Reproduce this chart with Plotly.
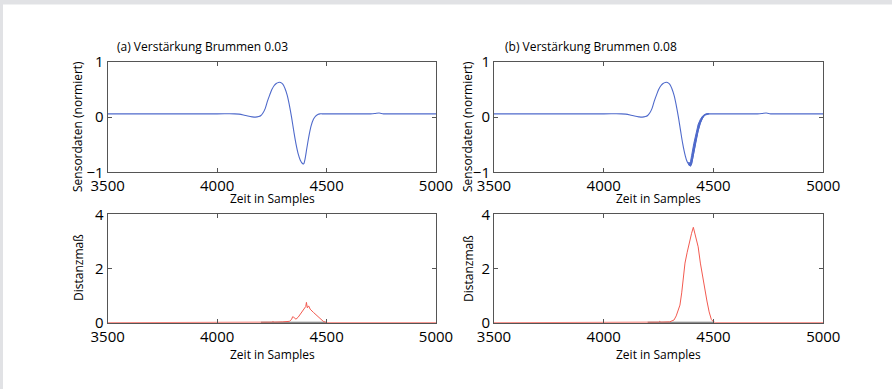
import plotly.graph_objects as go

W, H = 892, 389

# ---------------- data ----------------
x_sig = [3500, 3800, 4000, 4080, 4100, 4120, 4140, 4160, 4175, 4190, 4200, 4210, 4220, 4230,
         4240, 4250, 4260, 4270, 4280, 4290, 4300, 4310, 4320, 4330, 4340, 4350, 4360,
         4370, 4380, 4390, 4395, 4400, 4410, 4420, 4430, 4440, 4450, 4460, 4470, 4480,
         4600, 4700, 4720, 4740, 4760, 4780, 4900, 5000]
sig_a = [0.06, 0.06, 0.06, 0.06, 0.055, 0.04, 0.02, 0.005, 0.0, 0.01, 0.03, 0.08, 0.16, 0.29,
         0.40, 0.50, 0.57, 0.61, 0.63, 0.63, 0.60, 0.52, 0.40, 0.22, 0.0, -0.25, -0.48,
         -0.66, -0.78, -0.84, -0.85, -0.79, -0.56, -0.33, -0.15, -0.04, 0.02, 0.05, 0.06, 0.06,
         0.06, 0.06, 0.065, 0.075, 0.06, 0.06, 0.06, 0.06]
sig_b = [0.06, 0.06, 0.06, 0.06, 0.055, 0.04, 0.02, 0.005, 0.0, 0.01, 0.03, 0.08, 0.16, 0.29,
         0.40, 0.50, 0.57, 0.61, 0.63, 0.63, 0.60, 0.52, 0.40, 0.22, 0.0, -0.25, -0.49,
         -0.68, -0.81, -0.87, -0.88, -0.84, -0.64, -0.42, -0.24, -0.10, -0.01, 0.04, 0.06, 0.06,
         0.06, 0.06, 0.065, 0.075, 0.06, 0.06, 0.06, 0.06]
# spread of the overlapping curves in (b) on the rising edge after the minimum
x_band = [4385, 4390, 4395, 4400, 4410, 4420, 4430, 4440, 4450, 4460, 4470, 4480]
band_lo = [-0.86, -0.88, -0.89, -0.85, -0.65, -0.43, -0.25, -0.11, -0.02, 0.035, 0.055, 0.06]
band_hi = [-0.82, -0.83, -0.81, -0.70, -0.48, -0.29, -0.13, -0.04, 0.02, 0.05, 0.06, 0.06]

x_dist_a = [3500, 4200, 4210, 4250, 4255, 4260, 4300, 4330, 4340, 4345, 4350, 4360, 4370,
            4380, 4390, 4400, 4405, 4408, 4412, 4418, 4425, 4440, 4455, 4470, 4485, 4500, 5000]
dist_a = [0, 0, 0.01, 0.02, 0.04, 0.02, 0.03, 0.05, 0.12, 0.22, 0.2, 0.13, 0.2,
          0.32, 0.42, 0.52, 0.6, 0.75, 0.55, 0.62, 0.5, 0.38, 0.27, 0.15, 0.05, 0.0, 0]

x_dist_b = [3500, 4210, 4250, 4255, 4260, 4300, 4320, 4330, 4340, 4347, 4355, 4362, 4370,
            4380, 4390, 4400, 4408, 4415, 4420, 4430, 4440, 4450, 4460, 4470, 4480, 4490,
            4500, 4510, 5000]
dist_b = [0, 0, 0.02, 0.05, 0.02, 0.03, 0.1, 0.25, 0.5, 0.65, 1.1, 1.75, 2.2,
          2.6, 3.0, 3.3, 3.52, 3.3, 3.2, 2.8, 2.2, 1.7, 1.2, 0.8, 0.4, 0.12,
          0.03, 0, 0]

x_dark = [4200, 4500]
dark_vals = [0, 0]

x_ticks = [3500, 4000, 4500, 5000]
sig_ticks = [-1, 0, 1]
dist_ticks = [0, 2, 4]

titles = ["(a) Verstärkung Brummen 0.03", "(b) Verstärkung Brummen 0.08"]
xlabel = "Zeit in Samples"
ylabel_top = "Sensordaten (normiert)"
ylabel_bot = "Distanzmaß"

BLUE = "#4f6acb"
RED = "#f25a50"
FRAME = "#555555"
FONT = "Open Sans"

xl = (107.7, 436.0)
xr = (494.0, 823.3)
yt = (62.0, 172.3)
yb = (214.3, 322.7)


def xd(p):
    return [p[0] / W, p[1] / W]


def yd(p):
    return [1 - p[1] / H, 1 - p[0] / H]


fig = go.Figure()

fig.add_trace(go.Scatter(x=x_sig, y=sig_a, mode="lines", line=dict(color=BLUE, width=1.1, shape="spline"),
                         xaxis="x", yaxis="y", showlegend=False))
fig.add_trace(go.Scatter(x=x_band + x_band[::-1], y=band_lo + band_hi[::-1], mode="lines",
                         fill="toself", fillcolor=BLUE, line=dict(color=BLUE, width=1.0),
                         xaxis="x2", yaxis="y2", showlegend=False))
fig.add_trace(go.Scatter(x=x_sig, y=sig_b, mode="lines", line=dict(color=BLUE, width=1.1, shape="spline"),
                         xaxis="x2", yaxis="y2", showlegend=False))
fig.add_trace(go.Scatter(x=x_dark, y=dark_vals, mode="lines", line=dict(color="#666666", width=2),
                         xaxis="x3", yaxis="y3", showlegend=False))
fig.add_trace(go.Scatter(x=x_dist_a, y=dist_a, mode="lines", line=dict(color=RED, width=1.0),
                         xaxis="x3", yaxis="y3", showlegend=False))
fig.add_trace(go.Scatter(x=x_dark, y=dark_vals, mode="lines", line=dict(color="#666666", width=2),
                         xaxis="x4", yaxis="y4", showlegend=False))
fig.add_trace(go.Scatter(x=x_dist_b, y=dist_b, mode="lines", line=dict(color=RED, width=1.0),
                         xaxis="x4", yaxis="y4", showlegend=False))

common_ax = dict(showline=True, linecolor=FRAME, linewidth=1, mirror="ticks", ticks="inside",
                 ticklen=4, tickcolor=FRAME, showgrid=False, zeroline=False,
                 tickfont=dict(family=FONT, size=15, color="black"))

xaxis_common = dict(common_ax, range=[3500, 5000], tickvals=x_ticks, ticklabelstandoff=0)

fig.update_layout(
    width=W, height=H, autosize=False,
    margin=dict(l=0, r=0, t=0, b=0, pad=0, autoexpand=False),
    paper_bgcolor="#e1e2e5", plot_bgcolor="white",
    font=dict(family=FONT, color="black"),
    xaxis=dict(xaxis_common, domain=xd(xl), anchor="y"),
    yaxis=dict(common_ax, domain=yd(yt), anchor="x", range=[-1, 1], tickvals=sig_ticks),
    xaxis2=dict(xaxis_common, domain=xd(xr), anchor="y2"),
    yaxis2=dict(common_ax, domain=yd(yt), anchor="x2", range=[-1, 1], tickvals=sig_ticks),
    xaxis3=dict(xaxis_common, domain=xd(xl), anchor="y3"),
    yaxis3=dict(common_ax, domain=yd(yb), anchor="x3", range=[0, 4], tickvals=dist_ticks),
    xaxis4=dict(xaxis_common, domain=xd(xr), anchor="y4"),
    yaxis4=dict(common_ax, domain=yd(yb), anchor="x4", range=[0, 4], tickvals=dist_ticks),
)

# white inner panel
fig.add_shape(type="rect", xref="paper", yref="paper", x0=3 / W, x1=1, y0=0, y1=1 - 4.5 / H,
              fillcolor="white", line=dict(width=0), layer="below")

ann = []


def txt(x, y, s, size=12, angle=0, xanchor="center"):
    ann.append(dict(x=x / W, y=1 - y / H, xref="paper", yref="paper", text=s, showarrow=False,
                    font=dict(family=FONT, size=size, color="black"), textangle=angle,
                    xanchor=xanchor, yanchor="middle"))


txt(115, 46.5, titles[0], xanchor="left")
txt(503, 46.5, titles[1], xanchor="left")
txt(272, 198, xlabel)
txt(658.5, 198, xlabel)
txt(272, 354, xlabel)
txt(658.5, 354, xlabel)
txt(77, 127, ylabel_top, angle=-90)
txt(467, 127, ylabel_top, angle=-90)
txt(78, 268, ylabel_bot, angle=-90)
txt(468, 268, ylabel_bot, angle=-90)
fig.update_layout(annotations=ann)

fig.write_html("out.html", config={"responsive": False},
               post_script="document.body.style.margin='0';document.body.style.overflow='hidden';")
